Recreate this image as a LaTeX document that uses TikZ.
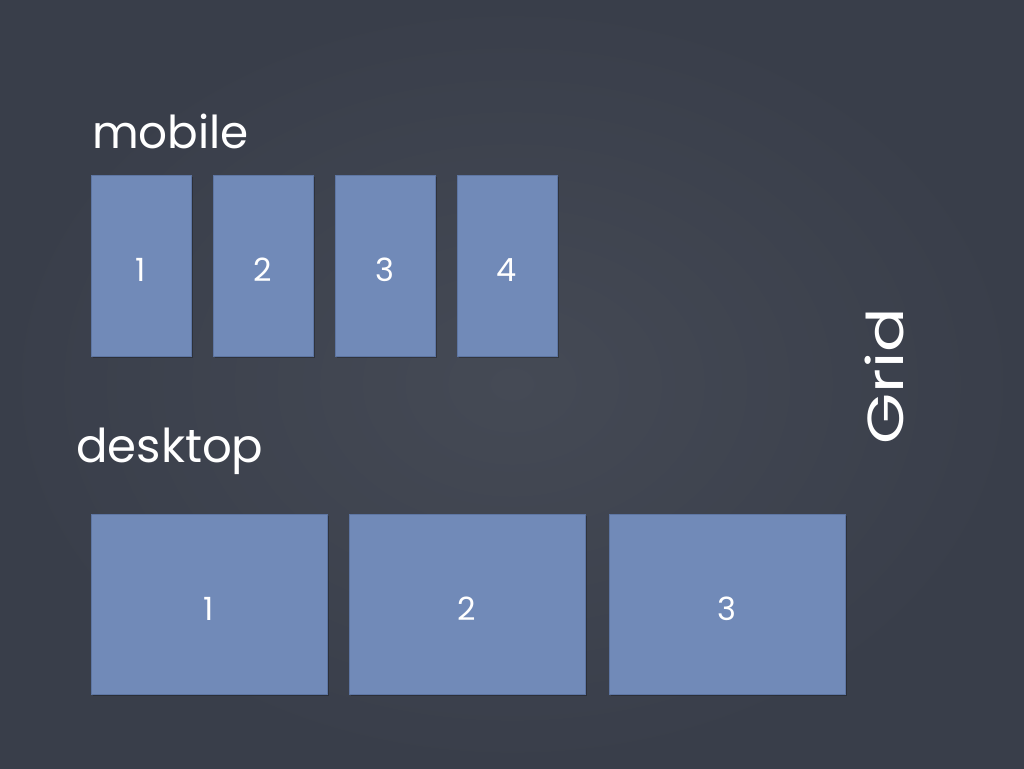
\documentclass[tikz,border=0pt]{standalone}
\usepackage{fontspec}
\setmainfont{Poppins}
\definecolor{board}{HTML}{393E4A}
\definecolor{boardlight}{HTML}{454A55}
\definecolor{card}{HTML}{718AB8}
\definecolor{cardedge}{HTML}{5E76A3}
\begin{document}
\begin{tikzpicture}[x=0.75pt,y=-0.75pt]
\tikzset{
  cardbox/.style={fill=card, draw=cardedge, line width=0.4pt},
  shadowbox/.style={fill=black, opacity=0.25},
  num/.style={text=white, font=\fontsize{24}{24}\selectfont},
  chalk/.style={text=white, inner sep=0pt}
}
\shade[inner color=boardlight, outer color=board] (0,0) rectangle (1024,768);
\useasboundingbox (0,0) rectangle (1024,768);

% mobile
\node[chalk, font=\fontsize{34}{34}\selectfont, anchor=base west] (mobile) at (92,148) {mobile};
\foreach \i/\x in {1/91,2/213,3/335,4/457}{
  \fill[shadowbox] (\x+2,177) rectangle (\x+102,358);
  \draw[cardbox] (\x,175) rectangle (\x+100,356);
  \node[num] (m\i) at (\x+50,270) {\i};
}

% desktop
\node[chalk, font=\fontsize{35}{35}\selectfont, anchor=base west] (desktop) at (76,462) {desktop};
\foreach \i/\x in {1/91,2/349,3/609}{
  \fill[shadowbox] (\x+2,516) rectangle (\x+238,696);
  \draw[cardbox] (\x,514) rectangle (\x+236,694);
  \node[num] (d\i) at (\x+118,609) {\i};
}

% Grid
\node[chalk, font=\fontsize{38}{38}\selectfont, rotate=90, anchor=base, xscale=1.3] (grid) at (903,376) {Grid};
\end{tikzpicture}
\end{document}
